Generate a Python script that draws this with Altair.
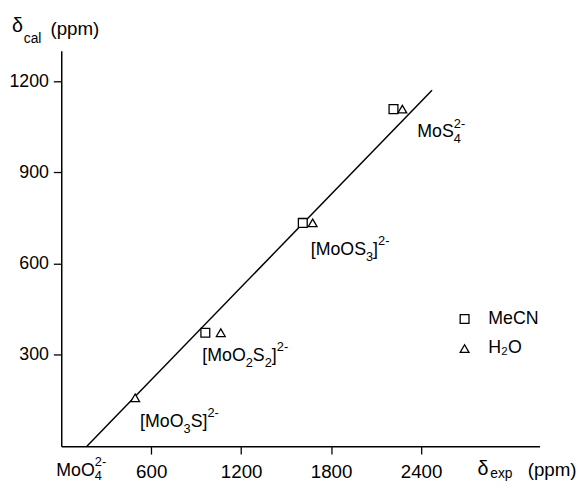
import altair as alt
import pandas as pd
import re

# ---- data ----
# labels use _{..} for subscripts and ^{..} for superscripts
compounds = ["[MoO_{3}S]^{2-}", "[MoO_{2}S_{2}]^{2-}", "[MoOS_{3}]^{2-}", "MoS_{4}^{2-}"]
mecn_exp = [None, 961, 1611, 2216]
mecn_cal = [None, 373, 734, 1108]
h2o_exp = [493, 1064, 1677, 2275]
h2o_cal = [159, 373, 734, 1108]
label_exp = [526, 941, 1664, 2375]
label_cal = [62, 279, 629, 1015]
fit_exp = [171, 2473]
fit_cal = [0, 1170]
x_ticks = [600, 1200, 1800, 2400]
y_ticks = [300, 600, 900, 1200]
solvents = ["MeCN", "H₂O"]
origin_label = "MoO_{4}^{2-}"

FONT = "Liberation Sans"
MAIN = 18
SMALL = 13

# approximate advance widths (em) for Liberation Sans
WID = {"[": 0.278, "]": 0.278, "M": 0.833, "o": 0.556, "O": 0.778, "S": 0.667,
       "-": 0.333, "(": 0.333, ")": 0.333, "p": 0.556, "m": 0.833, "e": 0.556,
       "x": 0.5, "c": 0.5, "a": 0.556, "l": 0.222, "δ": 0.556}


def width(s, size):
    return sum(WID.get(ch, 0.556) for ch in s) * size


def parse(s):
    toks = re.findall(r"_\{[^}]*\}|\^\{[^}]*\}|[^_^]+", s)
    out = []
    for t in toks:
        if t.startswith("_"):
            out.append(("sub", t[2:-1]))
        elif t.startswith("^"):
            out.append(("sup", t[2:-1]))
        else:
            out.append(("n", t))
    return out


def rich_layers(s, data, xenc, yenc, main=MAIN, small=SMALL, sub_dy=6, sup_dy=-10):
    """Build text layers for a label with sub/superscripts, anchored at the baseline."""
    toks = parse(s)
    layers = []
    dx = 0.0
    i = 0
    while i < len(toks):
        kind, t = toks[i]
        if kind == "n":
            layers.append((t, dx, 0, main))
            dx += width(t, main)
        elif kind == "sub" and i + 1 < len(toks) and toks[i + 1][0] == "sup":
            t2 = toks[i + 1][1]
            layers.append((t, dx, sub_dy, small))
            layers.append((t2, dx, sup_dy, small))
            dx += max(width(t, small), width(t2, small))
            i += 1
        else:
            layers.append((t, dx, sub_dy if kind == "sub" else sup_dy, small))
            dx += width(t, small)
        i += 1
    charts = []
    for t, ddx, ddy, sz in layers:
        charts.append(
            alt.Chart(data).mark_text(
                align="left", baseline="alphabetic", fontSize=sz, font=FONT,
                color="black", dx=ddx, dy=ddy,
            ).encode(x=xenc, y=yenc, text=alt.value(t))
        )
    return charts


rows = []
for i, c in enumerate(compounds):
    if mecn_exp[i] is not None:
        rows.append({"exp": mecn_exp[i], "cal": mecn_cal[i], "solvent": solvents[0]})
    rows.append({"exp": h2o_exp[i], "cal": h2o_cal[i], "solvent": solvents[1]})
pts = pd.DataFrame(rows)
fit = pd.DataFrame({"exp": fit_exp, "cal": fit_cal})

xs = alt.Scale(domain=[0, 3190], nice=False, zero=False)
ys = alt.Scale(domain=[0, 1300], nice=False, zero=False)
shape_scale = alt.Scale(domain=solvents, range=["square", "triangle-up"])
color_scale = alt.Scale(domain=solvents, range=["black", "black"])


def legend():
    return alt.Legend(
        title=None, orient="none", legendX=400, legendY=263,
        symbolSize=80, symbolStrokeWidth=1.3, symbolFillColor="white",
        labelFontSize=18, labelFont=FONT, labelColor="black",
        rowPadding=12, labelOffset=15, padding=0,
    )


xaxis = alt.Axis(values=x_ticks, title=None, grid=False, labelPadding=9, format="d",
                 labelFontSize=19)
yaxis = alt.Axis(values=y_ticks, title=None, grid=False, labelPadding=5, format="d",
                 labelFontSize=18)

line = alt.Chart(fit).mark_line(color="black", strokeWidth=1.5).encode(
    x=alt.X("exp:Q", scale=xs, axis=xaxis),
    y=alt.Y("cal:Q", scale=ys, axis=yaxis),
)

# white underlay so the fit line does not show through the open symbols
underlay = alt.Chart(pts).mark_point(
    color="white", filled=True, opacity=1, size=80
).encode(
    x=alt.X("exp:Q", scale=xs),
    y=alt.Y("cal:Q", scale=ys),
    shape=alt.Shape("solvent:N", scale=shape_scale, legend=legend()),
)

points = alt.Chart(pts).mark_point(
    filled=False, strokeWidth=1.3, size=80, opacity=1
).encode(
    x=alt.X("exp:Q", scale=xs),
    y=alt.Y("cal:Q", scale=ys),
    shape=alt.Shape("solvent:N", scale=shape_scale, legend=legend()),
    color=alt.Color("solvent:N", scale=color_scale, legend=legend()),
)

label_layers = []
for i, c in enumerate(compounds):
    d = pd.DataFrame({"exp": [label_exp[i]], "cal": [label_cal[i]]})
    label_layers += rich_layers(c, d, alt.X("exp:Q", scale=xs), alt.Y("cal:Q", scale=ys))


def txt(s, x, y, size):
    return alt.Chart(pd.DataFrame({"t": [s]})).mark_text(
        align="left", baseline="alphabetic", fontSize=size, font=FONT, color="black"
    ).encode(text="t:N", x=alt.value(x), y=alt.value(y))


one = pd.DataFrame({"k": [0]})
titles = [
    txt("δ", -50, -19, 20),
    txt("cal", -38, -8, 14),
    txt("(ppm)", -11, -16, 19),
    txt("δ", 422, 430, 20),
    txt("exp", 435, 433, 14),
    txt("(ppm)", 473, 431, 19),
]
origin = rich_layers(origin_label, one, alt.value(-5), alt.value(431), sub_dy=4)

chart = alt.layer(line, underlay, points, *label_layers, *titles, *origin).properties(
    width=485, height=401,
    padding={"left": 54, "top": 40, "right": 38, "bottom": 34},
    autosize="none",
).configure_view(stroke=None).configure_axis(
    domainColor="black", domainWidth=1.5, tickColor="black", tickWidth=1.3, tickSize=8,
    labelColor="black", labelFont=FONT,
)

chart.save("out.html", embed_options={"renderer": "svg", "actions": False})
